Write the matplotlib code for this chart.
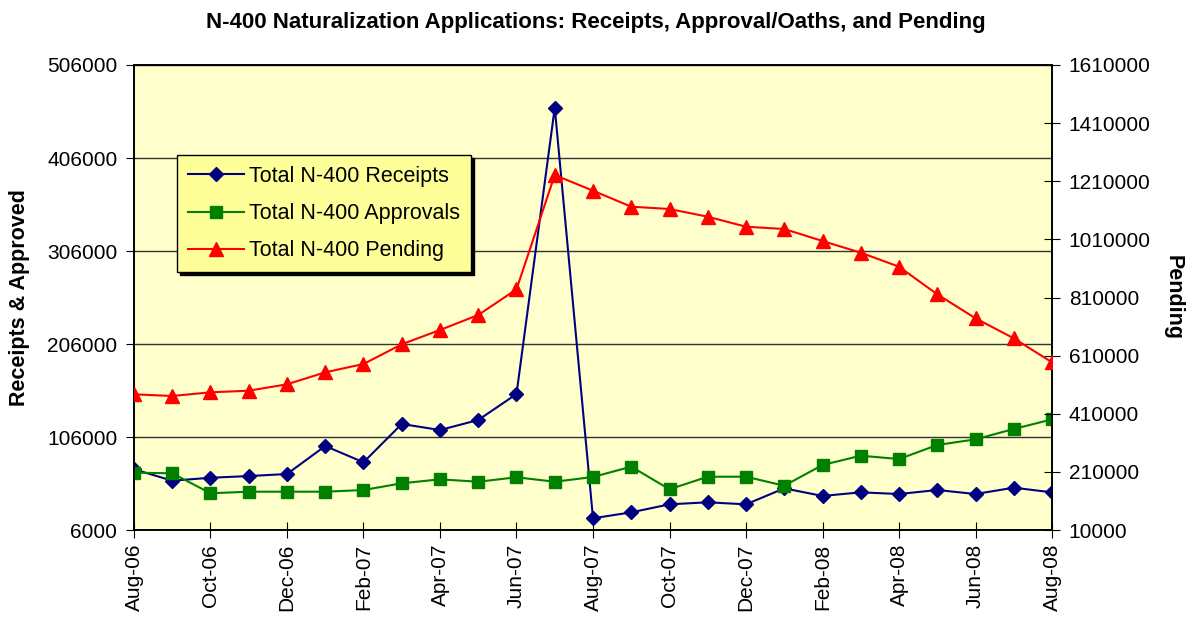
import numpy as np
import matplotlib.pyplot as plt
from matplotlib.ticker import FormatStrFormatter

plt.rcParams['font.family'] = ['Liberation Sans', 'DejaVu Sans']

months = ['Aug-06', 'Sep-06', 'Oct-06', 'Nov-06', 'Dec-06', 'Jan-07', 'Feb-07',
          'Mar-07', 'Apr-07', 'May-07', 'Jun-07', 'Jul-07', 'Aug-07', 'Sep-07',
          'Oct-07', 'Nov-07', 'Dec-07', 'Jan-08', 'Feb-08', 'Mar-08', 'Apr-08',
          'May-08', 'Jun-08', 'Jul-08', 'Aug-08']

receipts = [71300, 59000, 62200, 64000, 66200, 96300, 78800, 120000, 113500,
            124300, 152200, 460100, 18600, 25000, 33600, 35800, 33600, 50800,
            42600, 46500, 44700, 49000, 44700, 51500, 46500]

approvals = [67600, 67000, 45500, 47200, 47200, 47200, 49000, 56200, 60500,
             57900, 62700, 57900, 63000, 74100, 49800, 63300, 63300, 53600,
             75900, 85900, 82300, 97400, 103500, 114600, 125000]

pending = [476900, 471100, 483800, 489300, 511300, 552600, 581200, 649000,
           698200, 749800, 838200, 1231500, 1177500, 1122400, 1114500, 1088000,
           1053600, 1045700, 1004400, 964200, 916000, 821000, 738400, 669600,
           587000]

left_ticks = np.arange(6000, 506001, 100000)
right_ticks = np.arange(10000, 1610001, 200000)

x = np.arange(len(months))

fig = plt.figure(figsize=(11.91, 6.22), dpi=100)
ax = fig.add_axes([0.1125, 0.1479, 0.7708, 0.7476])
ax.set_facecolor('#FFFFCC')
ax2 = ax.twinx()

l1, = ax.plot(x, receipts, color='#000080', marker='D', markersize=7, lw=1.5,
              label='Total N-400 Receipts', zorder=3)
l2, = ax.plot(x, approvals, color='#008000', marker='s', markersize=8, lw=1.5,
              label='Total N-400 Approvals', zorder=3)
l3, = ax2.plot(x, pending, color='#FF0000', marker='^', markersize=10, lw=1.5,
               label='Total N-400 Pending', zorder=3)

ax.set_xlim(0, len(months) - 1)
ax.set_ylim(6000, 506000)
ax2.set_ylim(10000, 1610000)
ax.set_yticks(left_ticks)
ax2.set_yticks(right_ticks)
ax.yaxis.set_major_formatter(FormatStrFormatter('%d'))
ax2.yaxis.set_major_formatter(FormatStrFormatter('%d'))
ax.set_xticks(x[::2])
ax.set_xticklabels(months[::2], rotation=90)

ax.grid(axis='y', color='#333333', lw=1)
ax.set_axisbelow(True)

ax.tick_params(axis='y', direction='out', length=6, labelsize=15, pad=6)
ax.tick_params(axis='x', direction='inout', length=12, labelsize=15, pad=4)
ax2.tick_params(axis='y', direction='inout', length=12, labelsize=15, pad=6)

for a in (ax, ax2):
    for s in a.spines.values():
        s.set_color('black')
        s.set_linewidth(1.2)

ax.set_ylabel('Receipts & Approved', fontsize=15.5, fontweight='bold', labelpad=12)
ax2.set_ylabel('Pending', fontsize=15.5, fontweight='bold', rotation=270, labelpad=24)

fig.suptitle('N-400 Naturalization Applications: Receipts, Approval/Oaths, and Pending',
             fontsize=16, fontweight='bold', y=0.98)

leg = ax2.legend(handles=[l1, l2, l3], loc='upper left',
                 bbox_to_anchor=(0.047, 0.806), borderaxespad=0,
                 fontsize=15.5, fancybox=False, facecolor='#FFFF99',
                 edgecolor='black', framealpha=1, handlelength=2.6,
                 handletextpad=0.25, labelspacing=0.75, borderpad=0.5,
                 shadow={'color': 'black', 'alpha': 1})
leg.get_frame().set_linewidth(1)

fig.savefig('out.png', dpi=100)
